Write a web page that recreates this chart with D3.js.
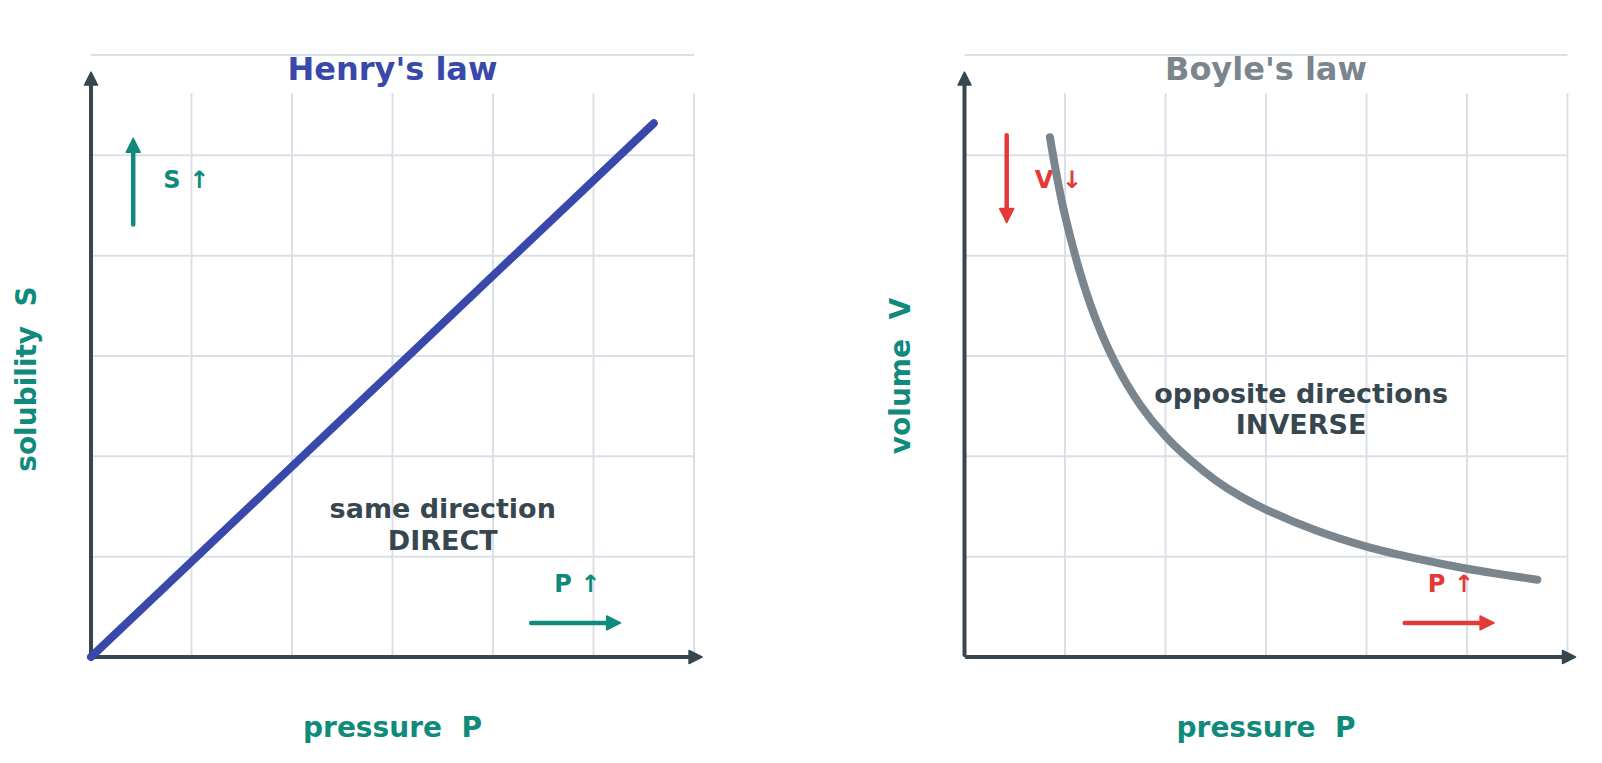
<!DOCTYPE html>
<html>
<head>
<meta charset="utf-8">
<script src="https://cdn.jsdelivr.net/npm/d3@7"></script>
<style>
  body { margin: 0; background: #fff; }
  text { font-family: "DejaVu Sans", sans-serif; font-weight: bold; white-space: pre; }
</style>
</head>
<body>
<svg id="chart"></svg>
<script>
// data
var gridTicks = [1, 2, 3, 4, 5, 6];

var henryP = [0, 5.6];
var henryS = [0, 5.32];

var boyleP = [0.85, 1.0, 1.25, 1.5, 1.75, 2.0, 2.25, 2.5, 2.75, 3.0, 3.5, 4.0, 4.5, 5.0, 5.7];
var boyleV = [5.18, 4.4, 3.52, 2.93, 2.51, 2.2, 1.96, 1.76, 1.6, 1.47, 1.26, 1.1, 0.98, 0.88, 0.77];

var titles = ["Henry's law", "Boyle's law"];
var yLabels = ["solubility  S", "volume  V"];
var xLabel = "pressure  P";
var noteLines = [["same direction", "DIRECT"], ["opposite directions", "INVERSE"]];
var cueY = ["S \u2191", "V \u2193"];
var cueX = "P \u2191";

var width = 1602, height = 763;
var dark = "#37474f", grid = "#dbe0e6", teal = "#0f8a7b", red = "#e53935";
var blue = "#3949ab", gray = "#7a858e";

var svg = d3.select("#chart")
    .attr("width", width)
    .attr("height", height);

// draws an arrow in pixel space, tip at (x2,y2)
var arrow = function(g, x1, y1, x2, y2, color, w, headL, headW) {
    var dx = x2 - x1, dy = y2 - y1;
    var len = Math.sqrt(dx * dx + dy * dy);
    var ux = dx / len, uy = dy / len;
    var nx = -uy, ny = ux;
    var bx = x2 - ux * headL, by = y2 - uy * headL;
    g.append("line")
        .attr("x1", x1).attr("y1", y1)
        .attr("x2", x2 - ux * headL * 0.6).attr("y2", y2 - uy * headL * 0.6)
        .attr("stroke", color)
        .attr("stroke-width", w)
        .attr("stroke-linecap", "round");
    g.append("path")
        .attr("d", "M" + x2 + "," + y2 +
            "L" + (bx + nx * headW / 2) + "," + (by + ny * headW / 2) +
            "L" + (bx - nx * headW / 2) + "," + (by - ny * headW / 2) + "Z")
        .attr("fill", color)
        .attr("stroke", color)
        .attr("stroke-width", 1.5)
        .attr("stroke-linejoin", "round");
};

var drawPanel = function(i, x0) {
    var xScale = d3.scaleLinear().domain([0, 6]).range([x0, x0 + 603]);
    var yScale = d3.scaleLinear().domain([0, 6]).range([657, 55]);
    var cueColor = i == 0 ? teal : red;
    var g = svg.append("g");

    // grid
    g.selectAll(".vg").data(gridTicks).enter().append("line")
        .attr("x1", function(d) { return xScale(d); })
        .attr("x2", function(d) { return xScale(d); })
        .attr("y1", yScale(0))
        .attr("y2", yScale(5.62))
        .attr("stroke", grid)
        .attr("stroke-width", 2);
    g.selectAll(".hg").data(gridTicks).enter().append("line")
        .attr("x1", xScale(0))
        .attr("x2", xScale(6))
        .attr("y1", function(d) { return yScale(d); })
        .attr("y2", function(d) { return yScale(d); })
        .attr("stroke", grid)
        .attr("stroke-width", 2);

    // title
    g.append("text")
        .attr("x", xScale(3))
        .attr("y", 80)
        .attr("text-anchor", "middle")
        .attr("font-size", 32)
        .attr("fill", i == 0 ? blue : gray)
        .text(titles[i]);

    // axis labels
    g.append("text")
        .attr("x", xScale(3))
        .attr("y", 737)
        .attr("text-anchor", "middle")
        .attr("font-size", 28)
        .attr("fill", teal)
        .text(xLabel);
    g.append("text")
        .attr("transform", "translate(" + (x0 - 55) + "," + (i == 0 ? 379 : 376) + ") rotate(-90)")
        .attr("text-anchor", "middle")
        .attr("font-size", 28)
        .attr("fill", teal)
        .text(yLabels[i]);

    // note
    var note = g.append("text")
        .attr("text-anchor", "middle")
        .attr("font-size", 27)
        .attr("fill", dark);
    var nx = i == 0 ? 3.5 : 3.35;
    var ny = i == 0 ? [1.39, 1.07] : [2.53, 2.22];
    noteLines[i].forEach(function(t, k) {
        note.append("tspan")
            .attr("x", xScale(nx))
            .attr("y", yScale(ny[k]))
            .text(t);
    });

    // cue labels
    g.append("text")
        .attr("x", xScale(i == 0 ? 0.72 : 0.70))
        .attr("y", yScale(4.67))
        .attr("font-size", 24)
        .attr("fill", cueColor)
        .text(cueY[i]);
    g.append("text")
        .attr("x", xScale(4.61))
        .attr("y", yScale(0.65))
        .attr("font-size", 24)
        .attr("fill", cueColor)
        .text(cueX);

    // axes
    arrow(g, xScale(0), yScale(0.02), xScale(0), yScale(5.83), dark, 4, 13, 13);
    arrow(g, xScale(0.02), yScale(0), xScale(6.08), yScale(0), dark, 4, 13, 13);

    // data line
    var linegen = d3.line()
        .x(function(d) { return xScale(d[0]); })
        .y(function(d) { return yScale(d[1]); });
    var pts;
    if (i == 0) {
        pts = d3.zip(henryP, henryS);
    } else {
        pts = d3.zip(boyleP, boyleV);
        linegen.curve(d3.curveCatmullRom.alpha(0.5));
    }
    g.append("path")
        .datum(pts)
        .attr("d", linegen)
        .attr("fill", "none")
        .attr("stroke", i == 0 ? blue : gray)
        .attr("stroke-width", 8)
        .attr("stroke-linecap", "round");

    // cue arrows
    if (i == 0) {
        arrow(g, xScale(0.42), yScale(4.31), xScale(0.42), yScale(5.17), teal, 4.5, 14, 14);
    } else {
        arrow(g, xScale(0.42), yScale(5.2), xScale(0.42), yScale(4.33), red, 4.5, 14, 14);
    }
    arrow(g, xScale(4.38), yScale(0.34), xScale(5.27), yScale(0.34), cueColor, 4.5, 14, 14);
};

drawPanel(0, 91);
drawPanel(1, 964.5);
</script>
</body>
</html>
